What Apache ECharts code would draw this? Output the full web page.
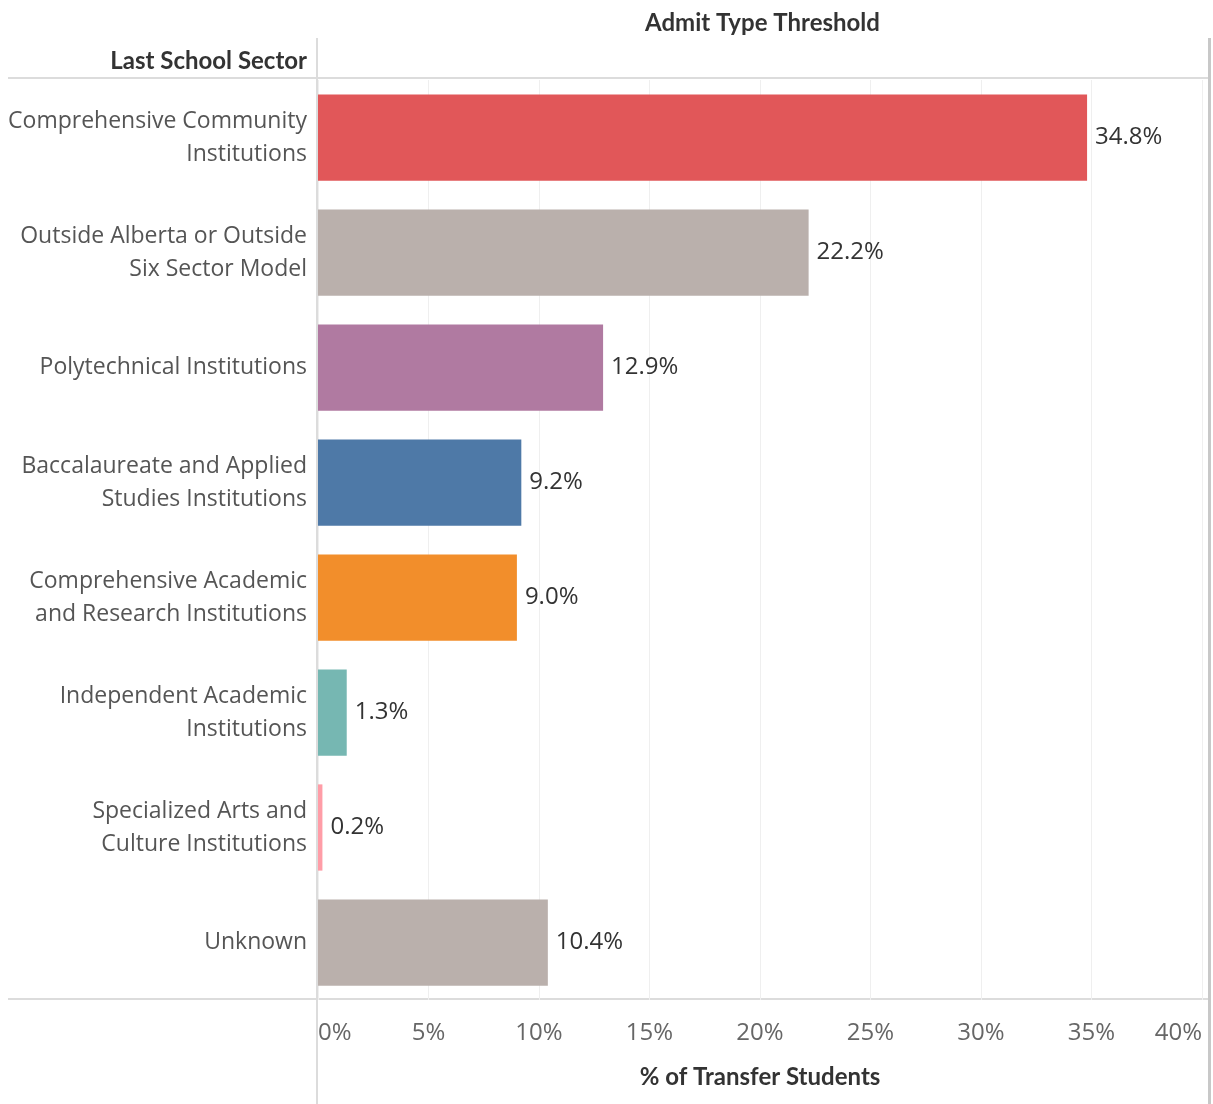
<!DOCTYPE html>
<html>
<head>
<meta charset="utf-8">
<script src="https://cdn.jsdelivr.net/npm/echarts@6/dist/echarts.min.js"></script>
<style>
  html, body { margin: 0; padding: 0; background: #fff; }
  #chart { width: 1213px; height: 1104px; }
</style>
</head>
<body>
<div id="chart"></div>
<script>
// Share of transfer students by last school sector
const sectors = [
  'Comprehensive Community\nInstitutions',
  'Outside Alberta or Outside\nSix Sector Model',
  'Polytechnical Institutions',
  'Baccalaureate and Applied\nStudies Institutions',
  'Comprehensive Academic\nand Research Institutions',
  'Independent Academic\nInstitutions',
  'Specialized Arts and\nCulture Institutions',
  'Unknown'
];
const shares = [34.8, 22.2, 12.9, 9.2, 9.0, 1.3, 0.2, 10.4];
const sectorColors = ['#E15759', '#BAB0AC', '#B07AA1', '#4E79A7', '#F28E2B', '#76B7B2', '#FF9DA7', '#BAB0AC'];
const xTicks = [0, 5, 10, 15, 20, 25, 30, 35, 40];

const chart = echarts.init(document.getElementById('chart'), null, { renderer: 'canvas' });

const BODY_FONT = '"Open Sans", sans-serif';
const HEAD_FONT = 'Lato, sans-serif';
const GRID_LEFT = 318, GRID_TOP = 80, GRID_RIGHT = 11, GRID_BOTTOM = 104;
const W = 1213, H = 1104;
const lineGray = '#dcdcdc';

chart.setOption({
  animation: false,
  textStyle: { fontFamily: BODY_FONT },
  grid: { left: GRID_LEFT, top: GRID_TOP, right: GRID_RIGHT, bottom: GRID_BOTTOM, containLabel: false },
  xAxis: {
    type: 'value',
    min: xTicks[0],
    max: xTicks[xTicks.length - 1],
    interval: 5,
    axisLine: { show: false },
    axisTick: { show: false },
    splitLine: { show: true, lineStyle: { color: '#efefef', width: 1 } },
    axisLabel: {
      formatter: v => v + '%',
      color: '#666',
      fontSize: 24,
      fontFamily: BODY_FONT,
      margin: 21,
      alignMinLabel: 'left',
      alignMaxLabel: 'right'
    },
    name: '% of Transfer Students',
    nameLocation: 'middle',
    nameGap: 65,
    nameTextStyle: { color: '#333', fontSize: 24, fontWeight: 'bold', fontFamily: HEAD_FONT }
  },
  yAxis: {
    type: 'category',
    data: sectors,
    inverse: true,
    axisLine: { show: false },
    axisTick: { show: false },
    splitLine: { show: false },
    axisLabel: {
      color: '#555',
      fontSize: 23,
      lineHeight: 33,
      fontFamily: BODY_FONT,
      margin: 11,
      align: 'right'
    }
  },
  series: [{
    type: 'bar',
    data: shares.map((v, i) => ({ value: v, itemStyle: { color: sectorColors[i] } })),
    barWidth: '75%',
    label: {
      show: true,
      position: 'right',
      distance: 8,
      formatter: p => p.value.toFixed(1) + '%',
      color: '#333',
      fontSize: 24,
      fontFamily: BODY_FONT
    }
  }],
  graphic: [
    // header texts
    { type: 'text', left: 645, top: 11, silent: true,
      style: { text: 'Admit Type Threshold', fill: '#333', font: 'bold 24px Lato' } },
    { type: 'text', right: W - 307, top: 49, silent: true,
      style: { text: 'Last School Sector', fill: '#333', font: 'bold 24px Lato' } },
    // header separator, bottom separator
    { type: 'line', silent: true, shape: { x1: 8, y1: 78, x2: 1210, y2: 78 }, style: { stroke: lineGray, lineWidth: 2 } },
    { type: 'line', silent: true, shape: { x1: 8, y1: 999, x2: 1210, y2: 999 }, style: { stroke: lineGray, lineWidth: 2 } },
    // pane borders
    { type: 'line', silent: true, shape: { x1: 317, y1: 38, x2: 317, y2: H }, style: { stroke: lineGray, lineWidth: 2 } },
    { type: 'line', silent: true, shape: { x1: 1209.5, y1: 38, x2: 1209.5, y2: H }, style: { stroke: '#c8c8c8', lineWidth: 3 } }
  ]
});
</script>
</body>
</html>
